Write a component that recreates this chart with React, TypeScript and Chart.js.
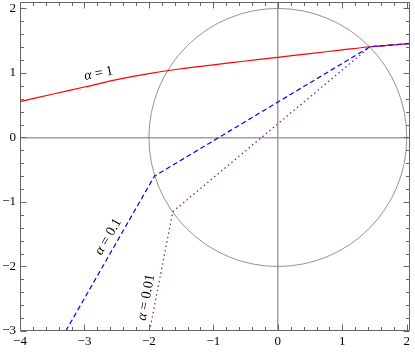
import React, { useEffect, useRef } from 'react';
import { Chart, registerables } from 'chart.js';

Chart.register(...registerables);

// Axis ranges
const X_MIN = -4;
const X_MAX = 2.05;
const Y_MIN = -3;
const Y_MAX = 2.1;
const MINOR_PER_MAJOR = 5; // minor ticks every 0.2
const CIRCLE_RADIUS = 2;

// alpha = 1 (red)
const alpha1X = [-4, -3.5, -3, -2.5, -2, -1.5, -1, -0.5, 0, 0.5, 1, 1.43, 2.1];
const alpha1Y = [0.556, 0.67, 0.782, 0.897, 0.99, 1.065, 1.125, 1.185, 1.243, 1.3, 1.357, 1.406, 1.46];

// alpha = 0.1 (blue dashed)
const alpha01X = [-3.29, -1.915, 1.43, 2.1];
const alpha01Y = [-3, -0.6, 1.406, 1.46];

// alpha = 0.01 (purple dotted)
const alpha001X = [-1.99, -1.63, 1.43, 2.1];
const alpha001Y = [-3, -1.15, 1.406, 1.46];

// Curve labels
const labelValues = ['1', '0.1', '0.01'];
const labelX = [-2.78, -2.63, -2.04];
const labelY = [0.99, -1.54, -2.48];
const labelAngleDeg = [-11, -60, -79];

const FONT = '"Liberation Serif", "DejaVu Serif", serif';

function fmt(v: number): string {
  return v < 0 ? '\u2212' + Math.abs(v) : String(v);
}

function pts(xs: number[], ys: number[]) {
  return xs.map((x, i) => ({ x, y: ys[i] }));
}

const decorPlugin = {
  id: 'decor',
  beforeDatasetsDraw(chart: any) {
    const { ctx, chartArea, scales } = chart;
    const x = scales.x;
    const y = scales.y;
    ctx.save();
    ctx.beginPath();
    ctx.rect(chartArea.left, chartArea.top, chartArea.right - chartArea.left, chartArea.bottom - chartArea.top);
    ctx.clip();
    const cx = x.getPixelForValue(0);
    const cy = y.getPixelForValue(0);
    const rx = x.getPixelForValue(CIRCLE_RADIUS) - cx;
    const ry = cy - y.getPixelForValue(CIRCLE_RADIUS);
    ctx.beginPath();
    ctx.ellipse(cx, cy, rx, ry, 0, 0, Math.PI * 2);
    ctx.strokeStyle = '#777';
    ctx.lineWidth = 0.8;
    ctx.stroke();
    ctx.restore();
  },
  afterDraw(chart: any) {
    const { ctx, chartArea, scales } = chart;
    const x = scales.x;
    const y = scales.y;
    const L = Math.round(chartArea.left) + 0.5;
    const R = Math.round(chartArea.right) - 0.5;
    const T = Math.round(chartArea.top) + 0.5;
    const B = Math.round(chartArea.bottom) - 0.5;
    ctx.save();
    ctx.strokeStyle = '#666';
    ctx.lineWidth = 1;
    ctx.beginPath();
    ctx.rect(L, T, R - L, B - T);
    ctx.stroke();
    const major = 6;
    const minor = 3.5;
    ctx.beginPath();
    const kx0 = Math.ceil(X_MIN * MINOR_PER_MAJOR - 1e-9);
    const kx1 = Math.floor(X_MAX * MINOR_PER_MAJOR + 1e-9);
    for (let k = kx0; k <= kx1; k++) {
      const v = k / MINOR_PER_MAJOR;
      const len = k % MINOR_PER_MAJOR === 0 ? major : minor;
      const px = Math.round(x.getPixelForValue(v)) + 0.5;
      ctx.moveTo(px, B);
      ctx.lineTo(px, B - len);
      ctx.moveTo(px, T);
      ctx.lineTo(px, T + len);
    }
    const ky0 = Math.ceil(Y_MIN * MINOR_PER_MAJOR - 1e-9);
    const ky1 = Math.floor(Y_MAX * MINOR_PER_MAJOR + 1e-9);
    for (let k = ky0; k <= ky1; k++) {
      const v = k / MINOR_PER_MAJOR;
      const len = k % MINOR_PER_MAJOR === 0 ? major : minor;
      const py = Math.round(y.getPixelForValue(v)) + 0.5;
      ctx.moveTo(L, py);
      ctx.lineTo(L + len, py);
      ctx.moveTo(R, py);
      ctx.lineTo(R - len, py);
    }
    ctx.stroke();

    // curve labels
    ctx.fillStyle = '#000';
    ctx.textBaseline = 'middle';
    for (let i = 0; i < labelValues.length; i++) {
      const px = x.getPixelForValue(labelX[i]);
      const py = y.getPixelForValue(labelY[i]);
      ctx.save();
      ctx.translate(px, py);
      ctx.rotate((labelAngleDeg[i] * Math.PI) / 180);
      const italic = 'italic 14px ' + FONT;
      const normal = '14px ' + FONT;
      ctx.font = italic;
      const w1 = ctx.measureText('\u03b1').width;
      ctx.font = normal;
      const rest = ' = ' + labelValues[i];
      const w2 = ctx.measureText(rest).width;
      const start = -(w1 + w2) / 2;
      ctx.textAlign = 'left';
      ctx.font = italic;
      ctx.fillText('\u03b1', start, 0);
      ctx.font = normal;
      ctx.fillText(rest, start + w1, 0);
      ctx.restore();
    }
    ctx.restore();
  },
};

export default function App() {
  const canvasRef = useRef<HTMLCanvasElement | null>(null);

  useEffect(() => {
    document.body.style.margin = '0';
    const canvas = canvasRef.current;
    if (!canvas) return;
    const zeroGrid = (c: any) => (c.tick && c.tick.value === 0 ? '#a0a0a0' : 'rgba(0,0,0,0)');
    const tickFont = { family: FONT, size: 13 };
    const chart = new Chart(canvas, {
      type: 'scatter',
      data: {
        datasets: [
          {
            label: 'alpha = 1',
            data: pts(alpha1X, alpha1Y),
            showLine: true,
            borderColor: '#ff0000',
            borderWidth: 1.2,
            pointRadius: 0,
            tension: 0.3,
            order: 3,
          },
          {
            label: 'alpha = 0.1',
            data: pts(alpha01X, alpha01Y),
            showLine: true,
            borderColor: '#0000ff',
            borderWidth: 1.2,
            borderDash: [5, 3],
            pointRadius: 0,
            tension: 0,
            order: 2,
          },
          {
            label: 'alpha = 0.01',
            data: pts(alpha001X, alpha001Y),
            showLine: true,
            borderColor: '#8e1c9e',
            borderWidth: 1.3,
            borderDash: [1.5, 3],
            pointRadius: 0,
            tension: 0,
            order: 1,
          },
        ],
      },
      options: {
        animation: false,
        responsive: false,
        maintainAspectRatio: false,
        layout: { padding: { top: 2, right: 5, left: 0, bottom: 0 } },
        plugins: { legend: { display: false }, tooltip: { enabled: false } },
        scales: {
          x: {
            type: 'linear',
            min: X_MIN,
            max: X_MAX,
            afterFit: (s: any) => {
              s.height = 22;
              s.paddingLeft = 0;
              s.paddingRight = 0;
            },
            ticks: {
              stepSize: 1,
              includeBounds: false,
              autoSkip: false,
              maxRotation: 0,
              padding: 3,
              color: '#000',
              font: tickFont,
              callback: (v: any) => fmt(Number(v)),
            },
            grid: { drawTicks: false, color: zeroGrid, lineWidth: 1.5 },
            border: { display: false },
          },
          y: {
            type: 'linear',
            min: Y_MIN,
            max: Y_MAX,
            afterFit: (s: any) => {
              s.width = 20;
              s.paddingTop = 0;
              s.paddingBottom = 0;
            },
            ticks: {
              stepSize: 1,
              includeBounds: false,
              autoSkip: false,
              padding: 4,
              color: '#000',
              font: tickFont,
              callback: (v: any) => fmt(Number(v)),
            },
            grid: { drawTicks: false, color: zeroGrid, lineWidth: 1.5 },
            border: { display: false },
          },
        },
      },
      plugins: [decorPlugin],
    });
    return () => chart.destroy();
  }, []);

  return (
    <div style={{ position: 'absolute', left: 0, top: 0, width: 415, height: 353 }}>
      <canvas ref={canvasRef} width={415} height={353} style={{ display: 'block' }} />
    </div>
  );
}
